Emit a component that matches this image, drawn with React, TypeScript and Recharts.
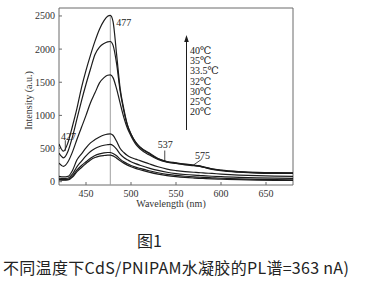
import React from 'react';
import {
  Line,
  LineChart,
  ReferenceArea,
  ReferenceDot,
  ReferenceLine,
  XAxis,
  YAxis,
} from 'recharts';

// wavelength (nm)
const wavelengths = [
  420, 425, 430, 435, 440, 445, 450, 455, 460, 465, 470, 474, 477, 480, 484, 488, 492, 496, 500,
  505, 510, 520, 530, 540, 550, 560, 570, 575, 580, 590, 600, 620, 640, 660, 680,
];

// PL intensity (a.u.) per temperature
const pl40 = [
  570, 460, 590, 840, 1110, 1420, 1680, 1910, 2120, 2300, 2430, 2495, 2510, 2420, 1920, 1400, 1100,
  860, 720, 600, 525, 435, 350, 305, 285, 265, 250, 243, 228, 195, 175, 152, 140, 136, 135,
];
const pl35 = [
  430, 360, 460, 680, 950, 1220, 1470, 1700, 1920, 2030, 2085, 2110, 2115, 2060, 1780, 1360, 1070,
  850, 715, 595, 515, 425, 345, 300, 280, 260, 245, 238, 222, 190, 170, 148, 135, 131, 130,
];
const pl335 = [
  280, 230, 300, 450, 640, 820, 1000, 1190, 1340, 1490, 1570, 1605, 1610, 1570, 1400, 1180, 970,
  805, 690, 570, 495, 405, 335, 295, 275, 255, 240, 233, 218, 185, 165, 143, 130, 126, 125,
];
const pl32 = [
  80, 72, 80, 170, 330, 420, 510, 585, 635, 675, 705, 718, 722, 700, 610, 500, 440, 395, 365, 340,
  318, 270, 225, 190, 168, 152, 142, 138, 132, 124, 115, 100, 90, 84, 80,
];
const pl30 = [
  52, 46, 52, 115, 227, 310, 390, 455, 500, 530, 550, 558, 562, 545, 490, 415, 365, 330, 300, 272,
  248, 205, 170, 142, 122, 108, 98, 94, 90, 82, 75, 65, 58, 53, 50,
];
const pl25 = [
  36, 32, 36, 85, 177, 245, 300, 354, 395, 420, 435, 440, 440, 425, 390, 340, 300, 270, 245, 220,
  200, 165, 135, 110, 95, 82, 72, 68, 64, 58, 52, 42, 35, 31, 29,
];
const pl20 = [
  26, 22, 26, 70, 152, 215, 275, 329, 365, 385, 395, 400, 402, 390, 355, 315, 280, 250, 225, 200,
  180, 145, 115, 92, 76, 64, 55, 51, 48, 42, 38, 30, 24, 20, 18,
];

const temperatures = ['40℃', '35℃', '33.5℃', '32℃', '30℃', '25℃', '20℃'];
const seriesKeys = ['t40', 't35', 't335', 't32', 't30', 't25', 't20'];
const seriesValues = [pl40, pl35, pl335, pl32, pl30, pl25, pl20];

const xTicks = [450, 500, 550, 600, 650];
const yTicks = [0, 500, 1000, 1500, 2000, 2500];

// peak / shoulder labels: text position and leader line ends
const peakLabels = [
  { text: '477', x: 492, y: 2400 },
  { text: '427', x: 430.5, y: 675 },
  { text: '537', x: 538, y: 555 },
  { text: '575', x: 579.5, y: 388 },
];
const leaderLines = [
  { x1: 427, y1: 625, x2: 427, y2: 465 },
  { x1: 537.5, y1: 470, x2: 537.5, y2: 302 },
  { x1: 578.5, y1: 338, x2: 569.5, y2: 252 },
];

const data = wavelengths.map((w, i) => {
  const row: Record<string, number> = { w };
  seriesKeys.forEach((k, j) => {
    row[k] = seriesValues[j][i];
  });
  return row;
});

const SERIF = '"Liberation Serif", "DejaVu Serif", serif';
const CJK = '"Noto Sans CJK SC", sans-serif';
const FRAME = '#6a6a6a';
const INK = '#1c1c1c';

function XTick({ x, y, payload }: any) {
  return (
    <g>
      <line x1={x} x2={x} y1={y} y2={y - 3} stroke={FRAME} />
      <text x={x} y={y + 12} textAnchor="middle" fontSize={10} fill="#333" fontFamily={SERIF}>
        {payload.value}
      </text>
    </g>
  );
}

function YTick({ x, y, payload }: any) {
  return (
    <g>
      <line x1={x} x2={x + 3} y1={y} y2={y} stroke={FRAME} />
      <text
        x={x - 4}
        y={y}
        textAnchor="end"
        dominantBaseline="central"
        fontSize={10}
        fill="#333"
        fontFamily={SERIF}
      >
        {payload.value}
      </text>
    </g>
  );
}

function TempLegend() {
  return (
    <div
      style={{
        position: 'absolute',
        left: 183,
        top: 35,
        width: 60,
        height: 96,
        fontFamily: SERIF,
      }}
    >
      <svg width={8} height={96} style={{ position: 'absolute', left: 0, top: 0 }}>
        <line x1={3.5} x2={3.5} y1={4} y2={95} stroke={INK} strokeWidth={1} />
        <path d="M3.5 0 L1.2 7 L5.8 7 Z" fill={INK} />
      </svg>
      <div style={{ position: 'absolute', left: 7, top: 11 }}>
        {temperatures.map((t) => (
          <div
            key={t}
            style={{ fontSize: 10, lineHeight: '10.2px', color: '#222', whiteSpace: 'nowrap' }}
          >
            {t}
          </div>
        ))}
      </div>
    </div>
  );
}

export default function App() {
  return (
    <div
      style={{
        position: 'absolute',
        left: 0,
        top: 0,
        width: 369,
        height: 282,
        background: '#fff',
      }}
    >
      <LineChart
        width={369}
        height={220}
        data={data}
        margin={{ top: 8, right: 76, bottom: 5, left: 0 }}
      >
        <XAxis
          dataKey="w"
          type="number"
          domain={[420, 680]}
          ticks={xTicks}
          allowDataOverflow
          axisLine={false}
          tickLine={false}
          tickSize={0}
          tickMargin={0}
          tick={<XTick />}
          height={30}
          label={{
            content: ({ viewBox }: any) => (
              <text
                x={viewBox.x + viewBox.width / 2 - 5}
                y={viewBox.y + 22}
                textAnchor="middle"
                fontSize={10}
                fill="#333"
                fontFamily={SERIF}
              >
                Wavelength (nm)
              </text>
            ),
          }}
        />
        <YAxis
          type="number"
          domain={[-50, 2620]}
          ticks={yTicks}
          allowDataOverflow
          axisLine={false}
          tickLine={false}
          tickSize={0}
          tickMargin={0}
          tick={<YTick />}
          width={59}
          label={{
            content: ({ viewBox }: any) => {
              const cx = viewBox.x + 28;
              const cy = viewBox.y + viewBox.height / 2 + 4;
              return (
                <text
                  x={cx}
                  y={cy}
                  transform={`rotate(-90 ${cx} ${cy})`}
                  textAnchor="middle"
                  dominantBaseline="central"
                  fontSize={10}
                  fill="#333"
                  fontFamily={SERIF}
                >
                  Intensity (a.u.)
                </text>
              );
            },
          }}
        />
        <ReferenceArea
          x1={420}
          x2={680}
          y1={-50}
          y2={2620}
          fill="none"
          stroke={FRAME}
          strokeWidth={1}
        />
        <ReferenceLine
          segment={[
            { x: 477, y: -50 },
            { x: 477, y: 2500 },
          ]}
          stroke="#a0a0a0"
          strokeWidth={1}
        />
        {leaderLines.map((l, i) => (
          <ReferenceLine
            key={i}
            segment={[
              { x: l.x1, y: l.y1 },
              { x: l.x2, y: l.y2 },
            ]}
            stroke={INK}
            strokeWidth={0.8}
          />
        ))}
        {seriesKeys.map((k) => (
          <Line
            key={k}
            dataKey={k}
            type="monotone"
            stroke={INK}
            strokeWidth={1.2}
            dot={false}
            isAnimationActive={false}
          />
        ))}
        {peakLabels.map((p) => (
          <ReferenceDot
            key={p.text}
            x={p.x}
            y={p.y}
            r={0}
            shape={(props: any) => (
              <text
                x={props.cx}
                y={props.cy}
                textAnchor="middle"
                dominantBaseline="central"
                fontSize={10}
                fill="#222"
                fontFamily={SERIF}
              >
                {p.text}
              </text>
            )}
          />
        ))}
      </LineChart>
      <TempLegend />
      <div
        style={{
          position: 'absolute',
          left: 137,
          top: 230,
          fontFamily: CJK,
          fontSize: 16,
          lineHeight: '20px',
          color: '#222',
        }}
      >
        图1
      </div>
      <div
        style={{
          position: 'absolute',
          left: 3,
          top: 257,
          fontFamily: CJK,
          fontSize: 16,
          lineHeight: '20px',
          letterSpacing: 0.3,
          color: '#222',
          whiteSpace: 'nowrap',
        }}
      >
        不同温度下CdS/PNIPAM水凝胶的PL谱=363 nA)
      </div>
    </div>
  );
}
